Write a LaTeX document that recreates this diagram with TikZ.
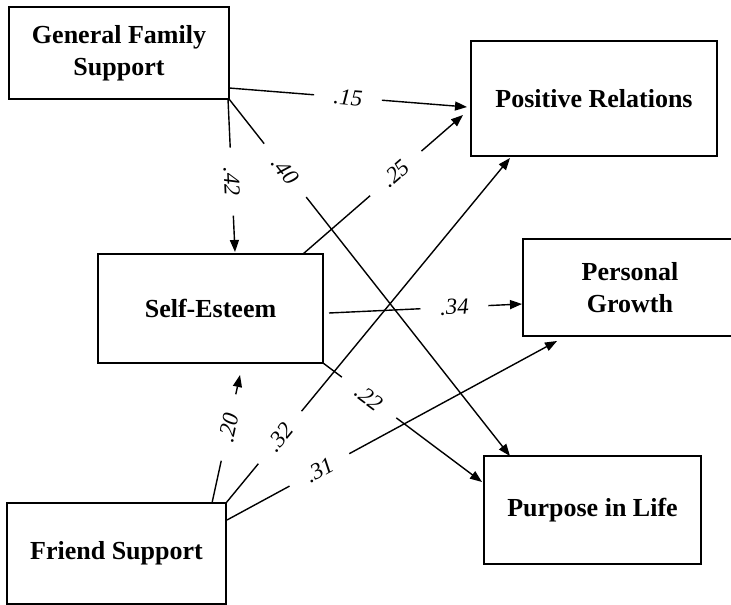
\documentclass[tikz,border=0pt]{standalone}
\usepackage{fontspec}
\setmainfont{Liberation Serif}
\usetikzlibrary{arrows.meta}
\begin{document}
\begin{tikzpicture}[x=1pt,y=-1pt,
  box/.style={draw, line width=1.4pt, align=center, inner sep=0pt,
    font=\fontsize{26}{32}\selectfont\bfseries},
  lbl/.style={sloped, inner xsep=1pt, inner ysep=1pt,
    font=\fontsize{23}{23}\selectfont\itshape},
  conn/.style={line width=1.4pt},
  gap/.style={shorten >=34pt},
  arr/.style={conn, shorten <=34pt, -{Triangle[length=12pt,width=9pt]}}]
\useasboundingbox (0,0) rectangle (731,605);
\clip (0,0) rectangle (731,605);
\fill[white] (0,0) rectangle (731,605);

% boxes
\node[box, minimum width=220pt, minimum height=92pt] (gfs) at (119,53) {General Family\\Support};
\node[box, minimum width=246pt, minimum height=115pt] (pr) at (594,98.5) {Positive Relations};
\node[box, minimum width=214pt, minimum height=97pt] (pg) at (630,287.5) {Personal\\Growth};
\node[box, minimum width=225pt, minimum height=109pt] (se) at (210.5,308.5) {Self-Esteem};
\node[box, minimum width=219pt, minimum height=101pt] (fs) at (116.5,553.5) {Friend Support};
\node[box, minimum width=217pt, minimum height=108pt] (pil) at (592.5,510) {Purpose in Life};

% connector end points
\coordinate (s1) at (229,88);   \coordinate (t1) at (467,107);
\coordinate (s2) at (228,99);   \coordinate (t2) at (235,252);
\coordinate (s3) at (229,99);   \coordinate (t3) at (510,456);
\coordinate (s4) at (303,254);  \coordinate (t4) at (463,115);
\coordinate (s5) at (329,313);  \coordinate (t5) at (522,304);
\coordinate (s6) at (323,363);  \coordinate (t6) at (482,482);
\coordinate (s7) at (212,503);  \coordinate (t7) at (240,375);
\coordinate (s8) at (226,503);  \coordinate (t8) at (510,158);
\coordinate (s9) at (227,520);  \coordinate (t9) at (557,341);

% labels on the paths
\path (s1) -- node[lbl, pos=0.50] (l1) {.15} (t1);
\path (s2) -- node[lbl, pos=0.54] (l2) {.42} (t2);
\path (s3) -- node[lbl, pos=0.20] (l3) {.40} (t3);
\path (s4) -- node[lbl, pos=0.58] (l4) {.25} (t4);
\path (s5) -- node[lbl, pos=0.65] (l5) {.34} (t5);
\path (s6) -- node[lbl, pos=0.29] (l6) {.22} (t6);
\path (s7) -- node[lbl, pos=0.59] (l7) {.20} (t7);
\path (s8) -- node[lbl, pos=0.19] (l8) {.32} (t8);
\path (s9) -- node[lbl, pos=0.28] (l9) {.31} (t9);

% connectors
\foreach \i in {1,...,9}{
  \draw[conn, gap] (s\i) -- (l\i.center);
  \draw[arr] (l\i.center) -- (t\i);
}
\end{tikzpicture}
\end{document}
